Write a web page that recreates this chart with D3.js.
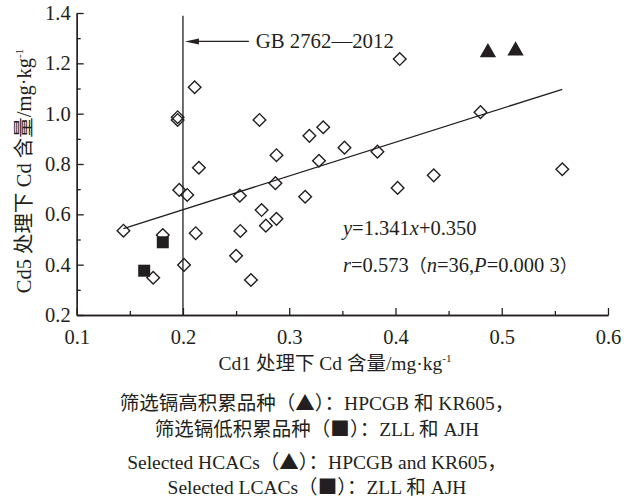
<!DOCTYPE html>
<html>
<head>
<meta charset="utf-8">
<script src="https://cdn.jsdelivr.net/npm/d3@7"></script>
<style>
  body { margin: 0; background: #fff; }
  svg text { font-family: "Liberation Serif", "Times New Roman", "Noto Sans CJK SC", serif; fill: #231f20; }
  svg tspan.sym { font-family: "Noto Sans CJK SC", sans-serif; }
</style>
</head>
<body>
<div id="chart"></div>
<script>
// Cd1 vs Cd5 content of each cultivar (mg/kg)
const openX = [0.144, 0.181, 0.172, 0.201, 0.1965, 0.204, 0.212, 0.2535, 0.254, 0.250, 0.264,
  0.274, 0.278, 0.288, 0.287, 0.211, 0.195, 0.195, 0.272, 0.288, 0.215, 0.404, 0.319, 0.332,
  0.352, 0.328, 0.383, 0.480, 0.402, 0.436, 0.315, 0.557];
const openY = [0.535, 0.518, 0.348, 0.399, 0.697, 0.677, 0.525, 0.674, 0.534, 0.435, 0.339,
  0.617, 0.555, 0.582, 0.724, 1.105, 0.986, 0.975, 0.975, 0.835, 0.785, 1.217, 0.912, 0.946,
  0.865, 0.813, 0.849, 1.006, 0.705, 0.755, 0.670, 0.779];
// high-accumulating (triangles) and low-accumulating (squares)
const highX = [0.487, 0.513];
const highY = [1.243, 1.250];
const lowX = [0.181, 0.1635];
const lowY = [0.489, 0.376];

const slope = 1.341, intercept = 0.350;
const limitX = 0.2;   // GB 2762-2012 limit

const xTicks = [0.1, 0.2, 0.3, 0.4, 0.5, 0.6];
const xMinor = [0.15, 0.25, 0.35, 0.45, 0.55];
const yTicks = [0.2, 0.4, 0.6, 0.8, 1.0, 1.2, 1.4];
const yMinor = [0.3, 0.5, 0.7, 0.9, 1.1, 1.3];

const width = 637, height = 501;
const ink = "#231f20";

const svg = d3.select("#chart").append("svg")
  .attr("width", width)
  .attr("height", height);

const x = d3.scaleLinear().domain([0.1, 0.6]).range([76.7, 608]);
const y = d3.scaleLinear().domain([0.2, 1.4]).range([315, 13]);

// axes (ticks point inward)
svg.append("g").attr("transform", `translate(0,${y(0.2)})`)
  .call(d3.axisBottom(x).tickValues(xTicks).tickSize(-7).tickSizeOuter(0)
    .tickPadding(14).tickFormat(d3.format(".1f")));
svg.append("g").attr("transform", `translate(0,${y(0.2)})`)
  .call(d3.axisBottom(x).tickValues(xMinor).tickSize(-4).tickSizeOuter(0).tickFormat(""));

svg.append("g").attr("transform", `translate(${x(0.1)},0)`)
  .call(d3.axisLeft(y).tickValues(yTicks).tickSize(-7).tickSizeOuter(0)
    .tickPadding(6).tickFormat(d3.format(".1f")));
svg.append("g").attr("transform", `translate(${x(0.1)},0)`)
  .call(d3.axisLeft(y).tickValues(yMinor).tickSize(-4).tickSizeOuter(0).tickFormat(""));

svg.selectAll(".domain, .tick line").attr("stroke", ink).attr("stroke-width", 1.3);
svg.selectAll(".tick text").attr("font-size", 20.5);

// limit line + arrow
svg.append("line")
  .attr("x1", x(limitX)).attr("x2", x(limitX))
  .attr("y1", y(1.389)).attr("y2", y(0.2))
  .attr("stroke", ink).attr("stroke-width", 1.3);

const ay = y(1.287), ax = x(limitX) + 2;
svg.append("line")
  .attr("x1", ax + 8).attr("x2", x(0.262))
  .attr("y1", ay).attr("y2", ay)
  .attr("stroke", ink).attr("stroke-width", 1.3);
svg.append("path")
  .attr("d", `M${ax},${ay}L${ax + 14},${ay - 3}L${ax + 14},${ay + 3}Z`)
  .attr("fill", ink);

svg.append("text")
  .attr("x", x(0.2685)).attr("y", y(1.287) + 7)
  .attr("font-size", 20.8)
  .text("GB 2762\u20142012");

// regression line across data range
const [x0, x1] = d3.extent(openX);
svg.append("line")
  .attr("x1", x(x0)).attr("y1", y(slope * x0 + intercept))
  .attr("x2", x(x1)).attr("y2", y(slope * x1 + intercept))
  .attr("stroke", ink).attr("stroke-width", 1.3);

// open diamonds
const diamond = d3.symbol().type(d3.symbolSquare).size(80);
svg.append("g").selectAll("path")
  .data(d3.zip(openX, openY))
  .join("path")
  .attr("d", diamond)
  .attr("transform", d => `translate(${x(d[0])},${y(d[1])}) rotate(45)`)
  .attr("fill", "none")
  .attr("stroke", ink)
  .attr("stroke-width", 1.4);

// filled squares
svg.append("g").selectAll("rect")
  .data(d3.zip(lowX, lowY))
  .join("rect")
  .attr("x", d => x(d[0]) - 6).attr("y", d => y(d[1]) - 6)
  .attr("width", 12).attr("height", 12)
  .attr("fill", ink);

// filled triangles
const tri = d3.symbol().type(d3.symbolTriangle).size(115);
svg.append("g").selectAll("path")
  .data(d3.zip(highX, highY))
  .join("path")
  .attr("d", tri)
  .attr("transform", d => `translate(${x(d[0])},${y(d[1])})`)
  .attr("fill", ink);

// equation text
const eq = svg.append("text").attr("x", 343).attr("y", 235).attr("font-size", 20.5);
eq.append("tspan").attr("font-style", "italic").text("y");
eq.append("tspan").text("=1.341");
eq.append("tspan").attr("font-style", "italic").text("x");
eq.append("tspan").text("+0.350");

const rt = svg.append("text").attr("x", 343).attr("y", 271.5).attr("font-size", 20.5);
rt.append("tspan").attr("font-style", "italic").text("r");
rt.append("tspan").text("=0.573");
rt.append("tspan").attr("class", "sym").attr("font-size", 18).text("\uff08");
rt.append("tspan").attr("font-style", "italic").text("n");
rt.append("tspan").text("=36,");
rt.append("tspan").attr("font-style", "italic").text("P");
rt.append("tspan").text("=0.000 3");
rt.append("tspan").attr("class", "sym").attr("font-size", 18).text("\uff09");

// axis titles
const xt = svg.append("text").attr("x", 335).attr("y", 370)
  .attr("text-anchor", "middle").attr("font-size", 19.5);
xt.append("tspan").text("Cd1 处理下 Cd 含量/mg·kg");
xt.append("tspan").attr("font-size", 11).attr("dy", -8).text("-1");

const yt = svg.append("text")
  .attr("transform", "translate(31,171) rotate(-90)")
  .attr("text-anchor", "middle").attr("font-size", 20.5);
yt.append("tspan").text("Cd5 处理下 Cd 含量/mg·kg");
yt.append("tspan").attr("font-size", 11).attr("dy", -8).text("-1");

// caption; the marker glyphs get the CJK font so they come out full-width
const caption = [
  ["筛选镉高积累品种（", "▲", "）：HPCGB 和 KR605，"],
  ["筛选镉低积累品种（", "■", "）：ZLL 和 AJH"],
  ["Selected HCACs（", "▲", "）：HPCGB and KR605，"],
  ["Selected LCACs（", "■", "）：ZLL 和 AJH"]
];
const capY = [410, 436, 469, 494];
const cap = svg.append("g").selectAll("text")
  .data(caption)
  .join("text")
  .attr("x", 317)
  .attr("y", (d, i) => capY[i])
  .attr("text-anchor", "middle")
  .attr("font-size", 19.5);
cap.append("tspan").text(d => d[0]);
cap.append("tspan").attr("class", "sym").text(d => d[1]);
cap.append("tspan").text(d => d[2]);
</script>
</body>
</html>
